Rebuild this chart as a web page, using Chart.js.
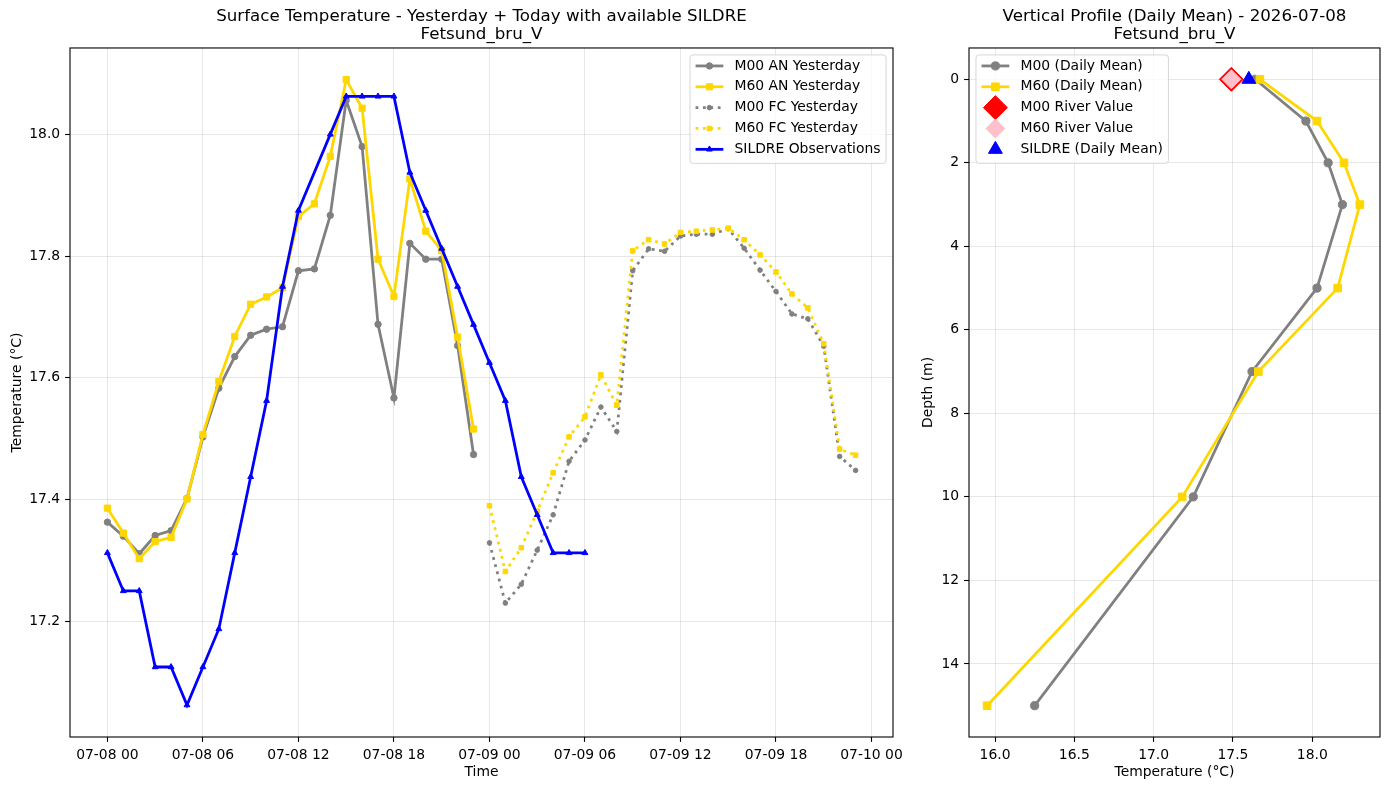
<!DOCTYPE html>
<html>
<head>
<meta charset="utf-8">
<script src="https://cdn.jsdelivr.net/npm/chart.js"></script>
<style>
  html, body { margin: 0; padding: 0; background: #fff; }
  #wrap { position: relative; width: 1389px; height: 790px; background: #fff; overflow: hidden; }
  canvas { position: absolute; top: 0; }
</style>
</head>
<body>
<div id="wrap">
  <canvas id="left" width="910" height="790" style="left:0px"></canvas>
  <canvas id="right" width="479" height="790" style="left:910px"></canvas>
</div>
<script>
// ---------------- DATA ----------------
const leftTitle = ['Surface Temperature - Yesterday + Today with available SILDRE', 'Fetsund_bru_V'];
const rightTitle = ['Vertical Profile (Daily Mean) - 2026-07-08', 'Fetsund_bru_V'];

const xTickLabels = ['07-08 00', '07-08 06', '07-08 12', '07-08 18', '07-09 00', '07-09 06', '07-09 12', '07-09 18', '07-10 00'];
const yTickLeft = [17.2, 17.4, 17.6, 17.8, 18.0];

const anTimes = ['07-08 00','07-08 01','07-08 02','07-08 03','07-08 04','07-08 05','07-08 06','07-08 07',
                 '07-08 08','07-08 09','07-08 10','07-08 11','07-08 12','07-08 13','07-08 14','07-08 15',
                 '07-08 16','07-08 17','07-08 18','07-08 19','07-08 20','07-08 21','07-08 22','07-08 23'];
const m00An = [17.363, 17.340, 17.311, 17.341, 17.349, 17.402, 17.503, 17.583, 17.635, 17.670, 17.680, 17.684,
               17.776, 17.779, 17.867, 18.056, 17.980, 17.688, 17.567, 17.821, 17.795, 17.795, 17.653, 17.474];
const m60An = [17.386, 17.345, 17.303, 17.331, 17.338, 17.401, 17.507, 17.594, 17.668, 17.721, 17.733, 17.748,
               17.865, 17.886, 17.964, 18.090, 18.043, 17.795, 17.734, 17.927, 17.841, 17.809, 17.667, 17.516];

const fcTimes = ['07-09 00','07-09 01','07-09 02','07-09 03','07-09 04','07-09 05','07-09 06','07-09 07',
                 '07-09 08','07-09 09','07-09 10','07-09 11','07-09 12','07-09 13','07-09 14','07-09 15',
                 '07-09 16','07-09 17','07-09 18','07-09 19','07-09 20','07-09 21','07-09 22','07-09 23'];
const m00Fc = [17.329, 17.230, 17.261, 17.317, 17.375, 17.463, 17.498, 17.552, 17.512, 17.776, 17.812, 17.808,
               17.833, 17.836, 17.836, 17.845, 17.813, 17.777, 17.742, 17.705, 17.697, 17.652, 17.471, 17.448];
const m60Fc = [17.390, 17.282, 17.321, 17.381, 17.444, 17.503, 17.536, 17.605, 17.555, 17.809, 17.827, 17.820,
               17.839, 17.841, 17.843, 17.846, 17.827, 17.802, 17.774, 17.738, 17.715, 17.656, 17.483, 17.473];

const sildreTimes = ['07-08 00','07-08 01','07-08 02','07-08 03','07-08 04','07-08 05','07-08 06','07-08 07',
                     '07-08 08','07-08 09','07-08 10','07-08 11','07-08 12','07-08 14','07-08 15','07-08 16',
                     '07-08 17','07-08 18','07-08 19','07-08 20','07-08 21','07-08 22','07-08 23','07-09 00',
                     '07-09 01','07-09 02','07-09 03','07-09 04','07-09 05','07-09 06'];
const sildreObs = [17.3125, 17.25, 17.25, 17.125, 17.125, 17.0625, 17.125, 17.1875, 17.3125, 17.4375, 17.5625, 17.75,
                   17.875, 18.0, 18.0625, 18.0625, 18.0625, 18.0625, 17.9375, 17.875, 17.8125, 17.75, 17.6875,
                   17.625, 17.5625, 17.4375, 17.375, 17.3125, 17.3125, 17.3125];

const depths = [0, 1, 2, 3, 5, 7, 10, 15];
const m00Profile = [17.64, 17.96, 18.10, 18.19, 18.03, 17.62, 17.25, 16.25];
const m60Profile = [17.67, 18.03, 18.20, 18.30, 18.16, 17.66, 17.18, 15.95];
const m00River = 17.49;
const m60River = 17.49;
const sildreMean = 17.60;
const riverDepth = 0;
const xTickRight = [16.0, 16.5, 17.0, 17.5, 18.0];
const yTickRight = [0, 2, 4, 6, 8, 10, 12, 14];

// ---------------- HELPERS ----------------
const FONT = 'DejaVu Sans';
const FS = 13.9;
Chart.defaults.font.family = FONT;
Chart.defaults.font.size = FS;
Chart.defaults.color = '#000';

function toHours(stamp) {
  const parts = stamp.split(' ');
  const day = +parts[0].split('-')[1];
  return (day - 8) * 24 + (+parts[1]);
}
function pts(times, vals) { return times.map((t, i) => ({ x: toHours(t), y: vals[i] })); }

const GRID = 'rgba(176,176,176,0.3)';

function drawMarker(ctx, style, r, x, y, fill, stroke, bw) {
  ctx.save();
  ctx.beginPath();
  if (style === 'circle') {
    ctx.arc(x, y, r, 0, Math.PI * 2);
  } else if (style === 'rect') {
    const s = Math.SQRT1_2 * r;
    ctx.rect(x - s, y - s, 2 * s, 2 * s);
  } else if (style === 'triangle') {
    ctx.moveTo(x, y - r);
    ctx.lineTo(x + Math.sin(2 * Math.PI / 3) * r, y + r / 2);
    ctx.lineTo(x - Math.sin(2 * Math.PI / 3) * r, y + r / 2);
    ctx.closePath();
  } else if (style === 'rectRot') {
    ctx.moveTo(x - r, y); ctx.lineTo(x, y - r); ctx.lineTo(x + r, y); ctx.lineTo(x, y + r);
    ctx.closePath();
  }
  ctx.fillStyle = fill; ctx.fill();
  if (bw) { ctx.lineWidth = bw; ctx.strokeStyle = stroke; ctx.stroke(); }
  ctx.restore();
}

function legendPlugin(corner) {
  return {
    id: 'mplLegend',
    afterDraw(chart) {
      const ctx = chart.ctx;
      const ca = chart.chartArea;
      const ds = chart.data.datasets;
      ctx.save();
      ctx.font = FS + 'px ' + FONT;
      const pad = 0.4 * FS, handleLen = 2 * FS, textPad = 0.8 * FS, gap = 0.5 * FS, axPad = 0.5 * FS;
      let tw = 0;
      ds.forEach(d => { tw = Math.max(tw, ctx.measureText(d.label).width); });
      const w = 2 * pad + handleLen + textPad + tw;
      const h = 2 * pad + ds.length * FS + (ds.length - 1) * gap;
      const bx = corner === 'ur' ? ca.right - axPad - w : ca.left + axPad;
      const by = ca.top + axPad;
      // box
      const rr = 3;
      ctx.beginPath();
      ctx.moveTo(bx + rr, by);
      ctx.lineTo(bx + w - rr, by); ctx.quadraticCurveTo(bx + w, by, bx + w, by + rr);
      ctx.lineTo(bx + w, by + h - rr); ctx.quadraticCurveTo(bx + w, by + h, bx + w - rr, by + h);
      ctx.lineTo(bx + rr, by + h); ctx.quadraticCurveTo(bx, by + h, bx, by + h - rr);
      ctx.lineTo(bx, by + rr); ctx.quadraticCurveTo(bx, by, bx + rr, by);
      ctx.closePath();
      ctx.fillStyle = 'rgba(255,255,255,0.8)'; ctx.fill();
      ctx.lineWidth = 1; ctx.strokeStyle = 'rgba(204,204,204,0.8)'; ctx.stroke();
      ds.forEach((d, i) => {
        const cy = by + pad + FS / 2 - 1.5 + i * (FS + gap);
        const hx0 = bx + pad, hx1 = hx0 + handleLen, hcx = (hx0 + hx1) / 2;
        if (d.showLine !== false) {
          ctx.save();
          ctx.beginPath();
          ctx.setLineDash(d.borderDash || []);
          ctx.lineCap = 'butt';
          ctx.lineWidth = d.borderWidth; ctx.strokeStyle = d.borderColor;
          ctx.moveTo(hx0, cy); ctx.lineTo(hx1, cy); ctx.stroke();
          ctx.restore();
        }
        drawMarker(ctx, d.pointStyle, d.pointRadius, hcx, cy, d.pointBackgroundColor, d.pointBorderColor, d.pointBorderWidth);
        ctx.fillStyle = '#000';
        ctx.textBaseline = 'middle';
        ctx.textAlign = 'left';
        ctx.fillText(d.label, hx1 + textPad, cy);
      });
      ctx.restore();
    }
  };
}

const framePlugin = {
  id: 'frame',
  afterDatasetsDraw(chart) {
    const { ctx, chartArea: a } = chart;
    ctx.save();
    ctx.strokeStyle = '#000';
    ctx.lineWidth = 1.1;
    ctx.strokeRect(a.left, a.top, a.right - a.left, a.bottom - a.top);
    ctx.restore();
  }
};

function lineDs(label, data, color, style, r, dashed, lw) {
  return {
    label, data,
    borderColor: color, backgroundColor: color,
    borderWidth: lw, borderDash: dashed ? [2.8, 4.6] : [],
    borderCapStyle: 'butt',
    pointStyle: style, pointRadius: r, pointHoverRadius: r,
    pointBackgroundColor: color, pointBorderColor: color, pointBorderWidth: 1,
    fill: false, tension: 0, showLine: true
  };
}
function markerDs(label, data, color, edge, style, r) {
  return {
    label, data, showLine: false,
    borderColor: color, backgroundColor: color, borderWidth: 0,
    pointStyle: style, pointRadius: r, pointHoverRadius: r,
    pointBackgroundColor: color, pointBorderColor: edge, pointBorderWidth: 1
  };
}
function applyOrder(list) { list.forEach((d, i) => { d.order = list.length - i; }); return list; }

function axisCommon(tickVals, fmt, afterFitFn, titleText, titlePad) {
  return {
    type: 'linear',
    afterBuildTicks: (s) => { s.ticks = tickVals.map(v => ({ value: v })); },
    afterFit: afterFitFn,
    ticks: { callback: fmt, autoSkip: false, maxRotation: 0, minRotation: 0, padding: 4.9,
             font: { size: FS, family: FONT }, color: '#000' },
    grid: { color: GRID, lineWidth: 1, drawTicks: true, tickLength: 4.9, tickColor: '#000', tickWidth: 1.1 },
    border: { display: false },
    title: { display: true, text: titleText, font: { size: FS, family: FONT }, color: '#000', padding: titlePad }
  };
}

// ---------------- LEFT CHART ----------------
const leftDatasets = applyOrder([
  lineDs('M00 AN Yesterday', pts(anTimes, m00An), '#808080', 'circle', 3.2, false, 2.78),
  lineDs('M60 AN Yesterday', pts(anTimes, m60An), '#FFD700', 'rect', 4.4, false, 2.78),
  lineDs('M00 FC Yesterday', pts(fcTimes, m00Fc), '#808080', 'circle', 2.3, true, 2.78),
  lineDs('M60 FC Yesterday', pts(fcTimes, m60Fc), '#FFD700', 'rect', 3.2, true, 2.78),
  lineDs('SILDRE Observations', pts(sildreTimes, sildreObs), '#0000FF', 'triangle', 3.4, false, 2.78)
]);

const xTickHours = xTickLabels.map(toHours);
const leftX = axisCommon(xTickHours, (v) => xTickLabels[xTickHours.indexOf(v)],
  (s) => { s.height = 53; }, 'Time', { top: 0, bottom: 9.7 });
leftX.min = -2.35; leftX.max = 49.35;
const leftY = axisCommon(yTickLeft, (v) => v.toFixed(1),
  (s) => { s.width = 70; }, 'Temperature (°C)', { top: 8.7, bottom: 0 });
leftY.min = 17.010; leftY.max = 18.142;

new Chart(document.getElementById('left'), {
  type: 'line',
  data: { datasets: leftDatasets },
  options: {
    responsive: false, animation: false, devicePixelRatio: 1,
    layout: { padding: { left: 0, right: 17, top: 0, bottom: 0 }, autoPadding: false },
    scales: { x: leftX, y: leftY },
    plugins: {
      legend: { display: false }, tooltip: { enabled: false },
      title: { display: true, text: leftTitle, fullSize: false, color: '#000',
               font: { size: 16.67, family: FONT, weight: 'normal', lineHeight: 1.1 },
               padding: { top: 7.3, bottom: 4 } }
    }
  },
  plugins: [framePlugin, legendPlugin('ur')]
});

// ---------------- RIGHT CHART ----------------
const prof = (vals) => vals.map((v, i) => ({ x: v, y: depths[i] }));
const rightDatasets = applyOrder([
  lineDs('M00 (Daily Mean)', prof(m00Profile), '#808080', 'circle', 4.1, false, 2.78),
  lineDs('M60 (Daily Mean)', prof(m60Profile), '#FFD700', 'rect', 5.4, false, 2.78),
  markerDs('M00 River Value', [{ x: m00River, y: riverDepth }], '#FF0000', '#FF0000', 'rectRot', 12),
  markerDs('M60 River Value', [{ x: m60River, y: riverDepth }], '#FFC0CB', '#FFC0CB', 'rectRot', 9.5),
  markerDs('SILDRE (Daily Mean)', [{ x: sildreMean, y: riverDepth }], '#0000FF', '#0000FF', 'triangle', 8)
]);

const rightX = axisCommon(xTickRight, (v) => v.toFixed(1),
  (s) => { s.height = 53; }, 'Temperature (°C)', { top: 0, bottom: 9.7 });
rightX.min = 15.836; rightX.max = 18.427;
const rightY = axisCommon(yTickRight, (v) => String(v),
  (s) => { s.width = 59; }, 'Depth (m)', { top: 9.7, bottom: 0 });
rightY.min = -0.75; rightY.max = 15.75; rightY.reverse = true;

new Chart(document.getElementById('right'), {
  type: 'line',
  data: { datasets: rightDatasets },
  options: {
    responsive: false, animation: false, devicePixelRatio: 1,
    layout: { padding: { left: 0, right: 9, top: 0, bottom: 0 }, autoPadding: false },
    scales: { x: rightX, y: rightY },
    plugins: {
      legend: { display: false }, tooltip: { enabled: false },
      title: { display: true, text: rightTitle, fullSize: false, color: '#000',
               font: { size: 16.67, family: FONT, weight: 'normal', lineHeight: 1.1 },
               padding: { top: 7.3, bottom: 4 } }
    }
  },
  plugins: [framePlugin, legendPlugin('ul')]
});
</script>
</body>
</html>
